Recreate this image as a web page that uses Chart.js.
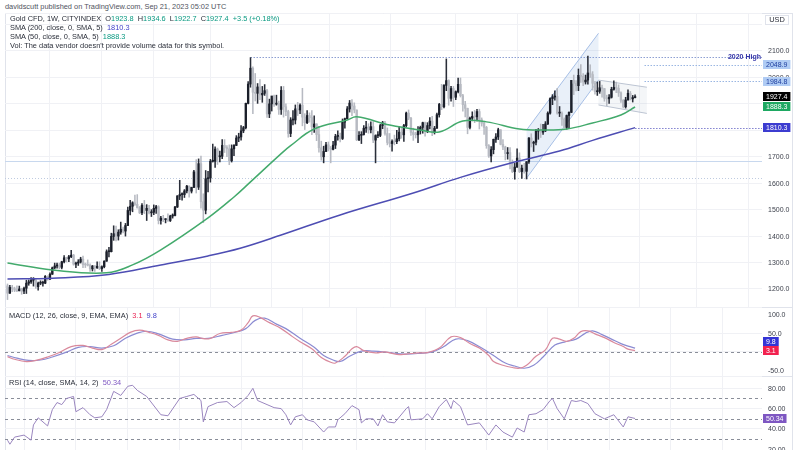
<!DOCTYPE html>
<html>
<head>
<meta charset="utf-8">
<script src="https://cdn.jsdelivr.net/npm/chart.js@4.4.1/dist/chart.umd.min.js"></script>
<style>
  body { margin: 0; width: 800px; height: 450px; overflow: hidden; background: #fff; position: relative;
         font-family: "Liberation Sans", Arial, sans-serif; color: #131722; }
  canvas { position: absolute; left: 0; }
  .txt { position: absolute; font-size: 7.4px; line-height: 9px; white-space: pre; color: #2a2e39; }
  .frame { position: absolute; border: 1px solid #e0e3eb; box-sizing: border-box; }
  .sep { position: absolute; left: 5px; width: 787px; height: 1px; background: #e0e3eb; }
  .g { color: #089981; } .b { color: #3f3fc9; } .r { color: #e91e4f; } .p { color: #7e57c2; }
</style>
</head>
<body>
<div class="frame" style="left:5px;top:13px;width:788px;height:445px"></div>
<div class="sep" style="top:307px"></div>
<div class="sep" style="top:376px"></div>
<canvas id="priceChart" width="800" height="294" style="top:13px"></canvas>
<canvas id="macdChart" width="800" height="69" style="top:307px"></canvas>
<canvas id="rsiChart" width="800" height="74" style="top:376px"></canvas>

<div class="txt" style="left:5px;top:2px;color:#50535e">davidscutt published on TradingView.com, Sep 21, 2023 05:02 UTC</div>
<div class="txt" style="left:10px;top:14px">Gold CFD, 1W, CITYINDEX  O<span class="g">1923.8</span>  H<span class="g">1934.6</span>  L<span class="g">1922.7</span>  C<span class="g">1927.4</span>  <span class="g">+3.5 (+0.18%)</span></div>
<div class="txt" style="left:10px;top:23px">SMA (200, close, 0, SMA, 5)  <span class="b">1810.3</span></div>
<div class="txt" style="left:10px;top:32px">SMA (50, close, 0, SMA, 5)  <span class="g">1888.3</span></div>
<div class="txt" style="left:10px;top:41px">Vol: The data vendor doesn't provide volume data for this symbol.</div>
<div class="txt" style="left:9px;top:311px">MACD (12, 26, close, 9, EMA, EMA)  <span class="r">3.1</span>  <span class="b">9.8</span></div>
<div class="txt" style="left:9px;top:378px">RSI (14, close, SMA, 14, 2)  <span class="p">50.34</span></div>
<div class="txt" style="left:765px;top:15px;width:24px;height:10px;border:1px solid #e0e3eb;box-sizing:border-box;text-align:center;line-height:8px">USD</div>

<script>
// weekly candles, first week = 13 Aug 2018, last = 18 Sep 2023 (index = week number)
const opens = [
  1212,1184,1206,1201,1196,1193,1200,1192,1203,1222,1227,1233,1233,1209,1222,1222,1222,1248,1238,1256,1280,
  1287,1289,1282,1303,1318,1314,1322,1328,1294,1298,1302,1313,1292,1291,1290,1276,1287,1280,1286,1277,1284,1305,1341,1341,1399,1409,1400,1415,1426,1419,1440,1497,1513,1526,1520,1507,1488,1516,1497,1505,1488,1490,1505,1511,1459,1468,1462,1464,1459,1476,1478,1510,
  1552,1557,1557,1571,1589,1570,1584,1643,1585,1674,1530,1498,1617,1620,1683,1683,1729,1700,1702,1743,1735,1730,1685,1730,1743,1771,1775,1798,1810,1902,1975,2035,1944,1940,1964,1934,1940,1950,1862,1900,1930,1899,1902,1879,1951,1889,1871,1788,1839,1839,1881,1877,
  1895,1850,1829,1856,1848,1813,1824,1784,1734,1700,1720,1745,1732,1728,1744,1777,1777,1769,1831,1844,1881,1903,1892,1877,1764,1781,1784,1808,1812,1802,1814,1763,1780,1781,1818,1828,1788,1754,1750,1758,1757,1768,1793,1783,1818,1865,1846,1792,1784,1783,1798,1811,
  1829,1797,1818,1835,1791,1808,1859,1898,1889,1970,1988,1921,1958,1925,1946,1974,1931,1897,1883,1811,1846,1853,1851,1871,1840,1827,1811,1742,1703,1727,1766,1775,1802,1747,1737,1712,1716,1675,1644,1661,1695,1644,1657,1645,1681,1771,1751,1755,1797,1797,1793,1798,
  1824,1865,1920,1926,1928,1865,1865,1842,1811,1856,1868,1989,1978,1969,2008,2004,1983,1990,2017,2011,1978,1946,1948,1961,1958,1921,1919,1925,1955,1962,1959,1942,1914,1889,1915,1940,1919,1923.8
];
const highs = [
  1219,1214,1214,1207,1212,1211,1203,1207,1233,1234,1243,1243,1237,1226,1231,1230,1251,1250,1261,1283,1298,
  1298,1298,1305,1326,1320,1327,1346,1331,1302,1311,1320,1324,1298,1310,1295,1289,1289,1303,1303,1288,1307,1348,1358,1411,1439,1438,1424,1453,1434,1448,1510,1535,1530,1555,1557,1512,1523,1535,1519,1516,1500,1518,1516,1515,1475,1479,1466,1484,1479,1484,1513,1553,
  1611,1564,1576,1592,1590,1585,1649,1689,1692,1703,1560,1648,1645,1690,1748,1738,1733,1722,1765,1765,1742,1745,1745,1746,1780,1789,1818,1815,1903,1984,2075,2040,2015,1977,1992,1966,1973,1955,1918,1921,1933,1933,1911,1965,1966,1900,1876,1848,1875,1896,1906,1900,
  1959,1863,1875,1866,1875,1855,1825,1815,1759,1740,1755,1756,1739,1758,1785,1798,1790,1843,1846,1890,1913,1916,1904,1877,1795,1795,1818,1834,1825,1832,1833,1783,1795,1823,1834,1834,1809,1788,1764,1782,1800,1814,1810,1823,1869,1877,1849,1808,1793,1814,1816,1831,
  1831,1829,1848,1853,1815,1865,1902,1974,1973,2070,1991,1966,1966,1949,1998,1998,1936,1910,1884,1850,1870,1875,1879,1880,1847,1830,1815,1746,1739,1767,1788,1808,1803,1765,1740,1735,1735,1688,1675,1730,1715,1669,1675,1682,1773,1787,1759,1804,1807,1824,1823,1833,
  1870,1923,1935,1949,1959,1890,1870,1847,1858,1870,1989,2009,1988,2032,2049,2015,2009,2081,2048,2022,1985,1983,1985,1971,1958,1933,1935,1963,1987,1982,1972,1946,1916,1925,1953,1947,1932,1934.6
];
const lows = [
  1160,1183,1190,1190,1190,1193,1180,1182,1183,1214,1221,1211,1202,1196,1216,1211,1220,1233,1235,1255,1276,
  1279,1276,1276,1299,1302,1303,1318,1290,1281,1289,1298,1281,1281,1287,1266,1268,1266,1278,1273,1266,1280,1305,1321,1340,1384,1382,1385,1407,1412,1400,1440,1480,1492,1516,1506,1485,1481,1485,1459,1484,1474,1481,1486,1446,1445,1455,1450,1456,1455,1468,1476,1508,
  1538,1536,1546,1563,1547,1563,1583,1563,1576,1506,1451,1484,1567,1604,1680,1660,1671,1681,1693,1716,1700,1670,1680,1704,1742,1757,1763,1791,1805,1900,1963,1863,1911,1902,1916,1906,1932,1849,1848,1873,1890,1895,1860,1860,1850,1855,1774,1776,1820,1824,1856,1863,
  1817,1803,1825,1831,1784,1792,1761,1717,1687,1677,1719,1722,1677,1726,1731,1763,1756,1765,1808,1843,1869,1855,1866,1761,1761,1750,1782,1792,1789,1790,1753,1677,1772,1776,1806,1782,1745,1737,1721,1745,1750,1760,1770,1758,1813,1840,1781,1762,1771,1753,1786,1789,
  1778,1791,1805,1780,1786,1807,1850,1878,1885,1950,1895,1910,1890,1916,1941,1926,1872,1851,1787,1805,1836,1829,1836,1805,1816,1785,1732,1698,1681,1711,1754,1765,1745,1727,1688,1691,1654,1640,1615,1660,1640,1618,1638,1616,1675,1737,1720,1745,1766,1773,1785,1795,
  1822,1861,1897,1914,1861,1852,1819,1809,1804,1809,1867,1935,1949,1950,1981,1969,1975,1975,2000,1952,1937,1932,1940,1925,1910,1893,1902,1922,1952,1942,1928,1906,1885,1884,1914,1915,1907,1922.7
];
const closes = [
  1184,1206,1201,1196,1193,1200,1192,1203,1222,1227,1233,1233,1209,1222,1222,1222,1248,1238,1256,1280,1287,
  1289,1282,1303,1318,1314,1322,1328,1294,1298,1302,1313,1292,1291,1290,1276,1287,1280,1286,1277,1284,1305,1341,1341,1399,1409,1400,1415,1426,1419,1440,1497,1513,1526,1520,1507,1488,1516,1497,1505,1488,1490,1505,1511,1459,1468,1462,1464,1459,1476,1478,1510,1552,
  1557,1557,1571,1589,1570,1584,1643,1585,1674,1530,1498,1617,1620,1683,1683,1729,1700,1702,1743,1735,1730,1685,1730,1743,1771,1775,1798,1810,1902,1975,2035,1944,1940,1964,1934,1940,1950,1862,1900,1930,1899,1902,1879,1951,1889,1871,1788,1839,1839,1881,1877,1895,
  1850,1829,1856,1848,1813,1824,1784,1734,1700,1720,1745,1732,1728,1744,1777,1777,1769,1831,1844,1881,1903,1892,1877,1764,1781,1784,1808,1812,1802,1814,1763,1780,1781,1818,1828,1788,1754,1750,1758,1757,1768,1793,1783,1818,1865,1846,1792,1784,1783,1798,1811,1829,
  1797,1818,1835,1791,1808,1859,1898,1889,1970,1988,1921,1958,1925,1946,1974,1931,1897,1883,1811,1846,1853,1851,1871,1840,1827,1811,1742,1703,1727,1766,1775,1802,1747,1737,1712,1716,1675,1644,1661,1695,1644,1657,1645,1681,1771,1751,1755,1797,1797,1793,1798,1824,
  1865,1920,1926,1928,1865,1865,1842,1811,1856,1868,1989,1978,1969,2008,2004,1983,1990,2017,2011,1978,1946,1948,1961,1958,1921,1919,1925,1955,1962,1959,1942,1914,1889,1915,1940,1919,1924,1927.4
];

// moving averages (week index -> value)
const sma200Weeks = [0, 19, 43, 65, 85, 99, 116, 141, 172, 192, 215, 234, 248, 266];
const sma200Vals  = [1238, 1241, 1255, 1291, 1325, 1355, 1404, 1480, 1563, 1622, 1680, 1722, 1762, 1810.3];
const sma50Weeks = [0, 19, 42, 53, 65, 85, 96, 103, 116, 120, 130, 144, 148, 162, 175, 183, 193, 203, 217, 227, 237, 248, 260, 266];
const sma50Vals  = [1298, 1272, 1261, 1291, 1348, 1469, 1548, 1605, 1712, 1742, 1805, 1839, 1851, 1820, 1801, 1794, 1835, 1832, 1805, 1801, 1805, 1828, 1858, 1888.3];

// MACD (12, 26, 9)
const macdWeeks = [0,3,8,12,17,22,27,32,36,40,44,48,52,56,60,64,68,72,76,80,83,86,90,95,99,102,104,107,111,116,120,124,129,133,137,139,143,146,148,151,156,160,165,169,174,178,183,188,192,196,200,204,206,210,214,217,220,224,228,231,234,237,240,243,246,249,253,257,261,263,266];
const macdVals  = [-13,-20,-26,-23,-14,-2,14,17,10,6,20,36,52,58,52,44,32,28,36,40,35,36,49,52,58,78,96,92,78,62,44,27,8,-15,-28,-30,-12,8,14,3,-3,0,-7,-6,-3,-2,10,40,38,22,10,-10,-26,-36,-42,-44,-36,-12,5,36,34,28,36,54,56,48,38,25,14,7,3.1];
const signalWeeks = [0,4,9,14,19,25,30,35,40,45,50,55,59,64,70,75,80,85,91,97,101,105,109,114,118,124,130,134,138,141,145,150,155,162,168,175,180,185,190,195,201,206,211,215,219,223,227,232,236,241,245,248,252,256,260,263,266];
const signalVals  = [-10,-17,-23,-22,-14,-1,12,14,10,16,36,50,55,48,34,32,36,36,44,53,62,84,90,74,62,36,12,-10,-22,-26,-12,2,2,-2,-6,-4,0,14,34,30,10,-10,-30,-38,-44,-36,-14,18,26,34,50,56,46,34,22,15,9.8];

// RSI (14)
const rsiWeeks = [0,1,3,7,10,11,13,17,19,21,23,25,28,29,32,35,37,40,42,45,48,51,53,55,59,65,68,73,76,79,82,83,85,89,93,96,99,102,104,106,110,113,116,118,120,122,125,127,130,134,136,139,140,143,146,149,150,152,155,157,159,161,164,169,170,171,176,178,180,183,186,188,189,192,195,200,204,207,210,214,216,219,221,224,227,230,231,233,236,239,241,243,246,249,253,257,261,263,266];
const rsiVals  = [29,25,32,34,29,44,51,43,59,66,64,70,72,57,61,54,51,52,59,77,73,82,83,78,72,54,53,70,72,74,68,47,62,66,67,61,66,73,80,68,64,61,60,54,44,52,54,49,47,37,42,42,49,55,63,59,46,50,50,43,54,47,46,60,62,49,50,55,50,62,69,60,68,62,44,46,34,44,37,32,41,37,54,55,59,68,70,60,50,68,67,68,65,55,50,54,42,52,50.34];

// drawings
const support2021 = 1683;
const support2022 = 1620;
const high2020 = { week: 103, price: 2077, label: '2020 High' };
const rays = [ { week: 270, price: 2048.9 }, { week: 270, price: 1984.8 } ];
const upChannel = { from: 220, to: 250.5, upper: [1801, 2167], lower: [1619, 1990] };
const flag = { from: 250.5, to: 271, upper: [1990, 1963], lower: [1896, 1864] };
const gridWeeks = [7, 29, 51, 73, 99, 125, 148, 177, 203, 229, 255, 281, 303];
const priceTicks = [1200, 1300, 1400, 1500, 1600, 1700, 1800, 1900, 2000, 2100];

Chart.defaults.font.family = '"Liberation Sans", Arial, sans-serif';
Chart.defaults.font.size = 7;
const FONT = '7px "Liberation Sans", Arial, sans-serif';

const weeks = closes.map((_, i) => i);
const isUp = i => closes[i] >= opens[i];
const pts = (xs, ys) => xs.map((x, k) => ({ x, y: ys[k] }));

const xAxis = {
  type: 'linear', min: -1.06, max: 319.8, offset: false,
  ticks: { display: false }, border: { display: false },
  grid: { color: '#f0f1f5', drawTicks: false },
  afterBuildTicks: s => { s.ticks = gridWeeks.map(v => ({ value: v })); }
};
const yAxis = (min, max, step) => ({
  position: 'right', min, max,
  ticks: { display: false, stepSize: step }, border: { display: false },
  grid: { color: '#f0f1f5', drawTicks: false },
  afterFit: s => { s.width = 38; }
});

function hLine(ctx, x0, x1, y, color, dash, width) {
  ctx.save();
  ctx.strokeStyle = color; ctx.lineWidth = width || 1; ctx.setLineDash(dash || []);
  ctx.beginPath(); ctx.moveTo(x0, Math.round(y) + 0.5); ctx.lineTo(x1, Math.round(y) + 0.5); ctx.stroke();
  ctx.restore();
}
function tag(ctx, text, y, bg, fg) {
  ctx.save();
  ctx.font = FONT;
  const w = ctx.measureText(text).width + 6;
  ctx.fillStyle = bg; ctx.fillRect(763, Math.round(y - 4.5), w, 9);
  ctx.fillStyle = fg; ctx.textBaseline = 'middle'; ctx.fillText(text, 766, y + 0.5);
  ctx.restore();
}
function axisText(ctx, text, y) {
  ctx.save();
  ctx.font = FONT; ctx.fillStyle = '#3b3f4a'; ctx.textBaseline = 'middle';
  ctx.fillText(text, 768, y + 0.5);
  ctx.restore();
}
function channel(chart, ch, fill, stroke) {
  const { x, y } = chart.scales, ctx = chart.ctx;
  const x1 = x.getPixelForValue(ch.from), x2 = x.getPixelForValue(ch.to);
  const p = [[x1, y.getPixelForValue(ch.upper[0])], [x2, y.getPixelForValue(ch.upper[1])],
             [x2, y.getPixelForValue(ch.lower[1])], [x1, y.getPixelForValue(ch.lower[0])]];
  ctx.save();
  ctx.beginPath(); p.forEach(([a, b], k) => k ? ctx.lineTo(a, b) : ctx.moveTo(a, b)); ctx.closePath();
  ctx.fillStyle = fill; ctx.fill();
  ctx.strokeStyle = stroke; ctx.lineWidth = 1;
  ctx.beginPath();
  ctx.moveTo(p[0][0], p[0][1]); ctx.lineTo(p[1][0], p[1][1]);
  ctx.moveTo(p[3][0], p[3][1]); ctx.lineTo(p[2][0], p[2][1]);
  ctx.stroke();
  ctx.restore();
}

// Price pane
const priceDrawings = {
  id: 'priceDrawings',
  beforeDatasetsDraw(chart) {
    const { ctx, chartArea: a, scales: { x, y } } = chart;
    hLine(ctx, a.left, a.right, y.getPixelForValue(support2021), '#c8d8ee', [], 1);
    hLine(ctx, a.left, a.right, y.getPixelForValue(support2022), '#bfcbe0', [1, 2], 1);
    hLine(ctx, x.getPixelForValue(high2020.week), a.right, y.getPixelForValue(high2020.price), '#8d9fd2', [1.5, 1.5], 1.2);
    rays.forEach(r => hLine(ctx, x.getPixelForValue(r.week), a.right, y.getPixelForValue(r.price), '#9ab6e2', [1.5, 1.5], 1));
    hLine(ctx, x.getPixelForValue(weeks.length - 1), a.right, y.getPixelForValue(sma200Vals[sma200Vals.length - 1]), '#8080cf', [1.5, 1.5], 1);
    channel(chart, upChannel, 'rgba(120,160,220,0.16)', '#a6bfe6');
    channel(chart, flag, 'rgba(150,165,190,0.10)', '#bcc4d2');
  },
  afterDraw(chart) {
    const { ctx, scales: { y } } = chart;
    const lastClose = closes[closes.length - 1];
    const tags = [
      [2048.9, '#b0ccf4', '#1f3f9f'], [1984.8, '#b0ccf4', '#1f3f9f'],
      [lastClose, '#000000', '#ffffff'],
      [sma50Vals[sma50Vals.length - 1], '#1ea862', '#ffffff'],
      [sma200Vals[sma200Vals.length - 1], '#3c3cd0', '#ffffff']
    ];
    const tagYs = tags.map(t => y.getPixelForValue(t[0]));
    priceTicks.forEach(v => {
      const py = y.getPixelForValue(v);
      if (tagYs.every(ty => Math.abs(ty - py) > 3.5)) axisText(ctx, v.toFixed(1), py);
    });
    tags.forEach((t, k) => tag(ctx, t[0].toFixed(1), tagYs[k], t[1], t[2]));
    ctx.save();
    ctx.font = 'bold ' + FONT; ctx.fillStyle = '#3535a8'; ctx.textAlign = 'right'; ctx.textBaseline = 'middle';
    ctx.fillText(high2020.label, 761, y.getPixelForValue(high2020.price));
    ctx.restore();
  }
};

new Chart(document.getElementById('priceChart'), {
  type: 'bar',
  data: {
    datasets: [
      { type: 'line', data: pts(sma50Weeks, sma50Vals), borderColor: '#43aa6c', borderWidth: 1.5, pointRadius: 0, tension: 0.4, order: 0 },
      { type: 'line', data: pts(sma200Weeks, sma200Vals), borderColor: '#4d4db3', borderWidth: 1.5, pointRadius: 0, tension: 0.4, order: 0 },
      { data: weeks.map(i => ({ x: i, y: [opens[i], closes[i]] })), barThickness: 1.7, minBarLength: 1, grouped: false,
        backgroundColor: weeks.map(i => isUp(i) ? '#1b1f2a' : '#b7bac2'), order: 1 },
      { data: weeks.map(i => ({ x: i, y: [lows[i], highs[i]] })), barThickness: 0.9, grouped: false,
        backgroundColor: weeks.map(i => isUp(i) ? '#2a2e39' : '#b7bac2'), order: 2 }
    ]
  },
  options: {
    responsive: false, animation: false,
    layout: { padding: { left: 5, right: 0, top: 0, bottom: 0 } },
    plugins: { legend: { display: false }, tooltip: { enabled: false } },
    scales: { x: xAxis, y: yAxis(1131.9, 2243.7, 100) }
  },
  plugins: [priceDrawings]
});

// MACD pane
const macdDrawings = {
  id: 'macdDrawings',
  beforeDatasetsDraw(chart) {
    const { ctx, chartArea: a, scales: { y } } = chart;
    hLine(ctx, a.left, a.right, y.getPixelForValue(0), '#8a8e99', [3, 3], 1);
  },
  afterDraw(chart) {
    const { ctx, scales: { y } } = chart;
    [100, 50, -50].forEach(v => axisText(ctx, v.toFixed(1), y.getPixelForValue(v)));
    const yM = y.getPixelForValue(macdVals[macdVals.length - 1]);
    tag(ctx, macdVals[macdVals.length - 1].toFixed(1), yM, '#f2214f', '#fff');
    tag(ctx, signalVals[signalVals.length - 1].toFixed(1), yM - 9, '#3434d6', '#fff');
  }
};
new Chart(document.getElementById('macdChart'), {
  type: 'line',
  data: {
    datasets: [
      { data: pts(macdWeeks, macdVals), borderColor: '#d9899c', borderWidth: 1.2, pointRadius: 0, tension: 0.4 },
      { data: pts(signalWeeks, signalVals), borderColor: '#8b8bd2', borderWidth: 1.2, pointRadius: 0, tension: 0.4 }
    ]
  },
  options: {
    responsive: false, animation: false,
    layout: { padding: { left: 5 } },
    plugins: { legend: { display: false }, tooltip: { enabled: false } },
    scales: { x: xAxis, y: yAxis(-64.7, 119.8, 50) }
  },
  plugins: [macdDrawings]
});

// RSI pane
const rsiDrawings = {
  id: 'rsiDrawings',
  beforeDatasetsDraw(chart) {
    const { ctx, chartArea: a, scales: { y } } = chart;
    [70, 50, 30].forEach(v => hLine(ctx, a.left, a.right, y.getPixelForValue(v), '#8a8e99', [3, 3], 1));
  },
  afterDraw(chart) {
    const { ctx, scales: { y } } = chart;
    [80, 60, 40, 20].forEach(v => axisText(ctx, v.toFixed(2), y.getPixelForValue(v)));
    const last = rsiVals[rsiVals.length - 1];
    tag(ctx, last.toFixed(2), y.getPixelForValue(last), '#7e57c2', '#fff');
  }
};
new Chart(document.getElementById('rsiChart'), {
  type: 'line',
  data: {
    datasets: [
      { data: pts(rsiWeeks, rsiVals), borderColor: '#9a86bf', borderWidth: 1, pointRadius: 0, tension: 0 }
    ]
  },
  options: {
    responsive: false, animation: false,
    layout: { padding: { left: 5 } },
    plugins: { legend: { display: false }, tooltip: { enabled: false } },
    scales: { x: xAxis, y: yAxis(19.34, 92.1, 20) }
  },
  plugins: [rsiDrawings]
});
</script>
</body>
</html>
